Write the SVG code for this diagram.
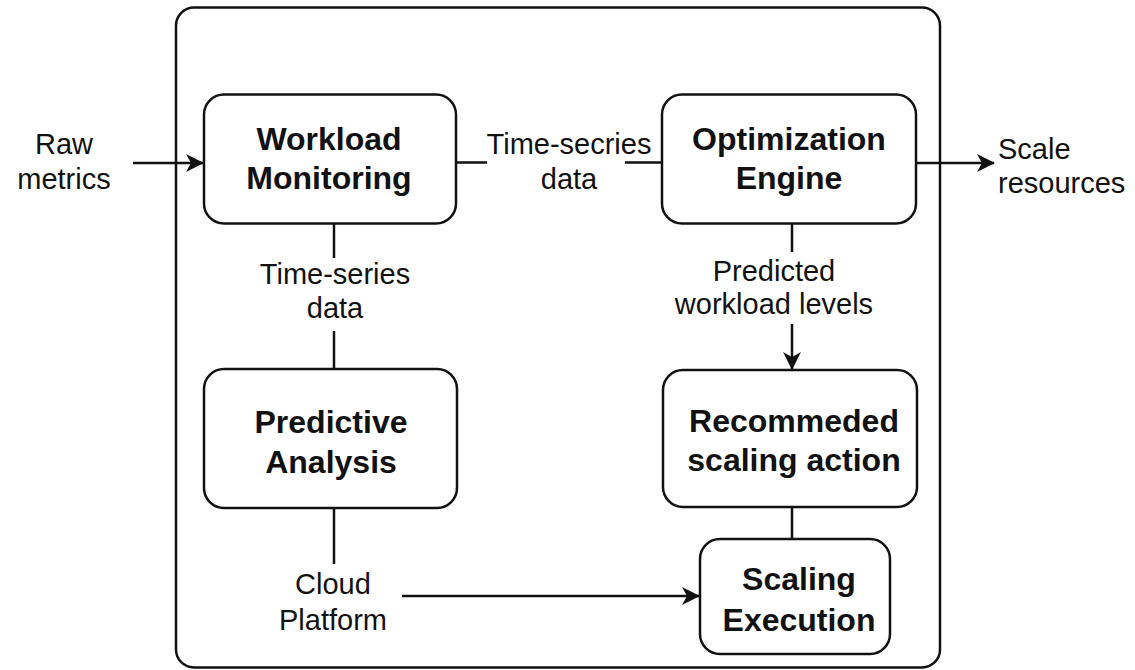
<svg xmlns="http://www.w3.org/2000/svg" width="1135" height="670" viewBox="0 0 1135 670">
  <style>
    .frame { fill: none; stroke: #111; stroke-width: 2.5; }
    .node rect { fill: #fff; stroke: #111; stroke-width: 2.5; }
    .title { font-family: "Liberation Sans", Arial, Helvetica, sans-serif; font-size: 32px; font-weight: bold; fill: #111; text-anchor: middle; }
    .label { font-family: "Liberation Sans", Arial, Helvetica, sans-serif; font-size: 29px; fill: #111; text-anchor: middle; }
    .label.start { text-anchor: start; }
    .edge { fill: none; stroke: #111; stroke-width: 2.5; }
    .arrow { marker-end: url(#head); }
  </style>
  <defs>
    <marker id="head" markerUnits="userSpaceOnUse" viewBox="0 0 18 18" markerWidth="18" markerHeight="18" refX="17" refY="9" orient="auto">
      <path d="M0,0 L18,9 L0,18 L5,9 z" fill="#111"/>
    </marker>
  </defs>

  <rect width="1135" height="670" fill="#fff"/>

  <!-- system boundary -->
  <rect class="frame" x="176" y="7.5" width="764" height="660" rx="18"/>

  <!-- connectors -->
  <g id="connectors">
    <line class="edge arrow" x1="133" y1="163" x2="203" y2="163"/>
    <line class="edge" x1="456" y1="162.5" x2="487" y2="162.5"/>
    <line class="edge" x1="625" y1="162.5" x2="662" y2="162.5"/>
    <line class="edge arrow" x1="916" y1="163" x2="994" y2="163"/>
    <line class="edge" x1="334" y1="223" x2="334" y2="258"/>
    <line class="edge" x1="334" y1="331" x2="334" y2="369"/>
    <line class="edge" x1="334" y1="508" x2="334" y2="564"/>
    <line class="edge arrow" x1="402" y1="596" x2="699" y2="596"/>
    <line class="edge" x1="792" y1="223" x2="792" y2="252"/>
    <line class="edge arrow" x1="792" y1="324" x2="792" y2="369"/>
    <line class="edge" x1="792" y1="507" x2="792" y2="539"/>
  </g>

  <!-- connector labels -->
  <g id="labels">
    <text class="label" x="64" y="154">Raw</text>
    <text class="label" x="64" y="189">metrics</text>
    <text class="label" x="569" y="154">Time-secries</text>
    <text class="label" x="569" y="189">data</text>
    <text class="label start" x="998" y="159">Scale</text>
    <text class="label start" x="998" y="193">resources</text>
    <text class="label" x="335" y="284">Time-series</text>
    <text class="label" x="335" y="318">data</text>
    <text class="label" x="774" y="281">Predicted</text>
    <text class="label" x="774" y="314">workload levels</text>
    <text class="label" x="333" y="594">Cloud</text>
    <text class="label" x="333" y="630">Platform</text>
  </g>

  <g id="workload-monitoring" class="node">
    <rect x="204" y="94.5" width="252" height="129" rx="20"/>
    <text class="title" x="329" y="150">Workload</text>
    <text class="title" x="329" y="189">Monitoring</text>
  </g>

  <g id="optimization-engine" class="node">
    <rect x="662" y="94.5" width="254" height="129" rx="20"/>
    <text class="title" x="789" y="150">Optimization</text>
    <text class="title" x="789" y="189">Engine</text>
  </g>

  <g id="predictive-analysis" class="node">
    <rect x="204" y="369" width="253" height="139" rx="20"/>
    <text class="title" x="331" y="433">Predictive</text>
    <text class="title" x="331" y="473">Analysis</text>
  </g>

  <g id="recommended-action" class="node">
    <rect x="663" y="370" width="254" height="137" rx="20"/>
    <text class="title" x="794" y="432">Recommeded</text>
    <text class="title" x="794" y="471">scaling action</text>
  </g>

  <g id="scaling-execution" class="node">
    <rect x="700" y="539" width="190" height="115" rx="20"/>
    <text class="title" x="799" y="590">Scaling</text>
    <text class="title" x="799" y="631">Execution</text>
  </g>
</svg>
